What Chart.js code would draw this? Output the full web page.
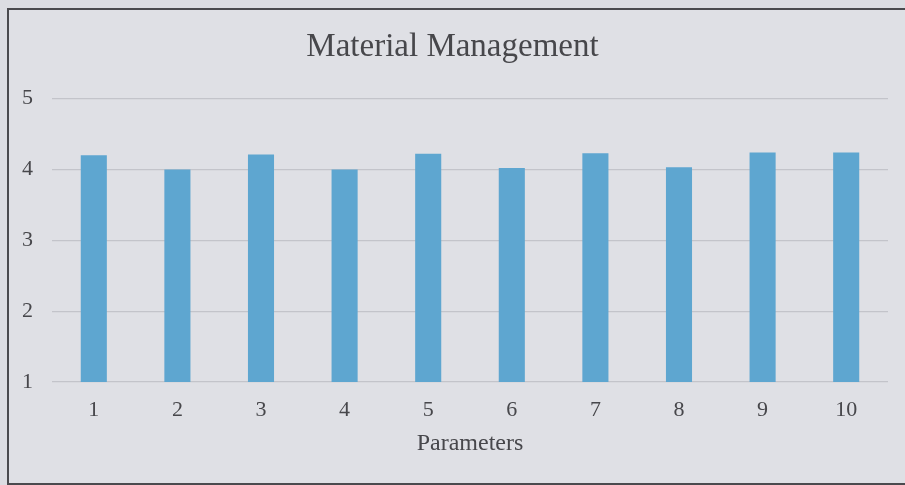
<!DOCTYPE html>
<html>
<head>
<meta charset="utf-8">
<script src="https://cdn.jsdelivr.net/npm/chart.js@4"></script>
<style>
  html, body { margin: 0; padding: 0; background: #dcdde2; }
  #frame {
    position: absolute; left: 7px; top: 8px; width: 920px; height: 473px;
    border: 2px solid #4a4a4e; background: #dfe0e5;
  }
  #wrap { position: absolute; left: 0; top: 0; width: 905px; height: 485px; }
</style>
</head>
<body>
<div id="frame"></div>
<div id="wrap"><canvas id="materialChart"></canvas></div>
<script>
// ---- data ----
const parameters = ['1', '2', '3', '4', '5', '6', '7', '8', '9', '10'];
const scores = [4.2, 4.0, 4.21, 4.0, 4.22, 4.02, 4.23, 4.03, 4.24, 4.24];
const yTicks = [1, 2, 3, 4, 5];

const textColor = '#47474b';
const serif = "'Liberation Serif', 'Times New Roman', serif";

const ctx = document.getElementById('materialChart').getContext('2d');
const materialChart = new Chart(ctx, {
    type: 'bar',
    data: {
        labels: parameters,
        datasets: [{
            label: 'Material Management',
            data: scores,
            backgroundColor: '#5ea6d0',
            borderWidth: 0,
            categoryPercentage: 0.8,
            barPercentage: 0.39
        }]
    },
    options: {
        responsive: true,
        maintainAspectRatio: false,
        animation: false,
        layout: { padding: { top: 28, right: 0, bottom: 0, left: 0 } },
        plugins: {
            legend: { display: false },
            tooltip: { enabled: false },
            title: {
                display: true,
                text: 'Material Management',
                color: textColor,
                font: { family: serif, size: 33, weight: 'normal' },
                padding: { top: 0, bottom: 31 }
            }
        },
        scales: {
            x: {
                grid: { display: false, drawTicks: false },
                border: { display: false },
                ticks: {
                    color: textColor,
                    font: { family: serif, size: 22 },
                    padding: 15,
                    maxRotation: 0
                },
                title: {
                    display: true,
                    text: 'Parameters',
                    color: textColor,
                    font: { family: serif, size: 24 },
                    padding: { top: 27, bottom: 27 }
                },
                afterFit: (scale) => { scale.height = 103; }
            },
            y: {
                min: yTicks[0],
                max: yTicks[yTicks.length - 1],
                afterBuildTicks: (scale) => { scale.ticks = yTicks.map(v => ({ value: v })); },
                grid: { color: '#c3c4ca', lineWidth: 1.2, drawTicks: false },
                border: { display: false },
                ticks: {
                    color: textColor,
                    font: { family: serif, size: 22 },
                    padding: 19
                },
                afterFit: (scale) => { scale.width = 52; }
            },
            // empty right margin so the title centres on the whole frame
            yRight: {
                position: 'right',
                grid: { display: false, drawTicks: false },
                border: { display: false },
                ticks: { display: false },
                afterFit: (scale) => { scale.width = 17; }
            }
        }
    }
});
</script>
</body>
</html>
